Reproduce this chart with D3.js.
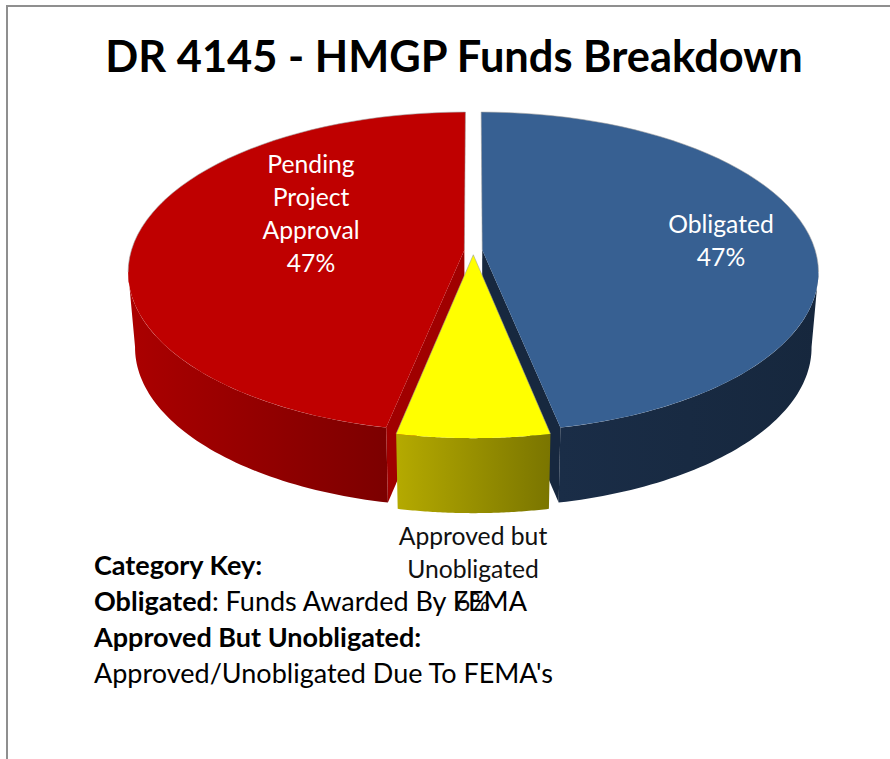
<!DOCTYPE html>
<html>
<head>
<meta charset="utf-8">
<script src="https://cdn.jsdelivr.net/npm/d3@7"></script>
<style>
  body { margin: 0; background: #fff; }
  svg { display: block; }
  text { font-family: Lato, sans-serif; }
</style>
</head>
<body>
<div id="chart"></div>
<script>
// datos
const categories = ["Obligated", "Approved but Unobligated", "Pending Project Approval"];
const shares = [46.8, 6.4, 46.8];
const labelLines = [["Obligated"], ["Approved but", "Unobligated"], ["Pending", "Project", "Approval"]];
const topColors = ["#376092", "#ffff00", "#bf0000"];
const wallColors = ["#17283f", "#7f7a00", "#a00000"];
const sideShades = [["#1a2d47", "#16273d"], ["#b5aa00", "#7a7500"], ["#ab0000", "#7c0000"]];
const labelColors = ["#fff", "#111", "#fff"];
const labelSpots = [[721, 233], [473, 545], [311, 173]];

const keyLines = [
  [["Category Key:", true]],
  [["Obligated", true], [": Funds Awarded By FEMA", false]],
  [["Approved But Unobligated:", true]],
  [["Approved/Unobligated Due To FEMA's", false]]
];

const width = 890, height = 759;
const cx = 473.3, cy = 250.5, rx = 333, ry = 157;
const persp = 0.137, explode = 0.027, depth = 75, lowShrink = 0.98;

const svg = d3.select("#chart").append("svg")
    .attr("width", width)
    .attr("height", height);

// marco gris, solo se ve arriba y a la izquierda
svg.append("path")
    .attr("d", d3.line()([[7, height], [7, 6], [width, 6]]))
    .attr("fill", "none")
    .attr("stroke", "#8f8f8f")
    .attr("stroke-width", 2);

svg.append("text")
    .attr("x", 454)
    .attr("y", 72)
    .attr("text-anchor", "middle")
    .style("font-size", "43.4px")
    .style("font-weight", "700")
    .style("fill", "#000")
    .text("DR 4145 - HMGP Funds Breakdown");

const slices = d3.pie().sort(null)(shares);
const pathOf = d3.line();

// pasa un angulo del pastel al plano, con algo de perspectiva
function project(d, theta, r, low) {
  const mid = (d.startAngle + d.endAngle) / 2;
  const u = r * Math.sin(theta) + explode * Math.sin(mid);
  const v = r * Math.cos(theta) + explode * Math.cos(mid);
  const s = 1 / (1 + persp * v);
  return [
    cx + rx * u * s * (low ? lowShrink : 1),
    cy - ry * v * s + (low ? depth : 0)
  ];
}

function arcPoints(d, t0, t1, low) {
  const n = 60;
  return d3.range(n + 1).map(i => project(d, t0 + (t1 - t0) * i / n, 1, low));
}

const defs = svg.append("defs");
// angulo donde la pared exterior empieza a verse
const turn = Math.acos(-persp);

function drawSlice(i) {
  const d = slices[i];
  const a0 = d.startAngle < turn ? turn : d.startAngle;
  const a1 = d.endAngle > 2 * Math.PI - turn ? 2 * Math.PI - turn : d.endAngle;

  const top = arcPoints(d, a0, a1, false);
  const low = arcPoints(d, a0, a1, true);
  const xs = d3.extent(top.concat(low), p => p[0]);
  // el rojo se oscurece hacia la derecha igual que el amarillo
  const grad = defs.append("linearGradient")
      .attr("id", "side" + i)
      .attr("gradientUnits", "userSpaceOnUse")
      .attr("x1", xs[0]).attr("x2", xs[1])
      .attr("y1", 0).attr("y2", 0);
  grad.append("stop").attr("offset", 0).attr("stop-color", sideShades[i][0]);
  grad.append("stop").attr("offset", 1).attr("stop-color", sideShades[i][1]);

  const g = svg.append("g");

  g.append("path")
      .attr("d", pathOf(top.concat(low.reverse())) + "Z")
      .attr("fill", "url(#side" + i + ")");

  // pared interior que da hacia el hueco central
  if (i !== 1) {
    const edge = i === 0 ? d.endAngle : d.startAngle;
    g.append("path")
        .attr("d", pathOf([
          project(d, edge, 0, false), project(d, edge, 1, false),
          project(d, edge, 1, true), project(d, edge, 0, true)
        ]) + "Z")
        .attr("fill", wallColors[i]);
  }

  const face = [project(d, d.startAngle, 0, false)].concat(arcPoints(d, d.startAngle, d.endAngle, false));
  g.append("path")
      .attr("d", pathOf(face) + "Z")
      .attr("fill", topColors[i]);

  // borde gris fino en la parte de atras
  let rim;
  if (i === 0) rim = [project(d, d.startAngle, 0, false)].concat(arcPoints(d, d.startAngle, turn, false));
  if (i === 2) rim = arcPoints(d, 2 * Math.PI - turn, d.endAngle, false).concat([project(d, d.endAngle, 0, false)]);
  if (i === 1) rim = [project(d, d.startAngle, 1, false), project(d, d.startAngle, 0, false), project(d, d.endAngle, 1, false)];
  g.append("path")
      .attr("d", pathOf(rim))
      .attr("fill", "none")
      .attr("stroke", "#9a9a9a")
      .attr("stroke-opacity", 0.7)
      .attr("stroke-width", 0.8);
}

[2, 0, 1].forEach(drawSlice);

// etiquetas de cada porcion
const lineGap = 33, labelSize = "24.7px";
categories.forEach((name, i) => {
  const lines = labelLines[i].concat(d3.format(".0f")(shares[i]) + "%");
  svg.append("text")
      .attr("class", "slice-label")
      .attr("text-anchor", "middle")
      .style("font-size", labelSize)
      .style("fill", labelColors[i])
      .selectAll("tspan")
      .data(lines)
      .join("tspan")
      .attr("x", labelSpots[i][0])
      .attr("y", (l, j) => labelSpots[i][1] + j * lineGap)
      .text(l => l);
});

// clave de categorias
keyLines.forEach((parts, i) => {
  svg.append("text")
      .attr("x", 94)
      .attr("y", 575 + i * 36)
      .style("font-size", "27px")
      .style("fill", "#000")
      .selectAll("tspan")
      .data(parts)
      .join("tspan")
      .style("font-weight", p => p[1] ? "700" : "400")
      .text(p => p[0]);
});
</script>
</body>
</html>
